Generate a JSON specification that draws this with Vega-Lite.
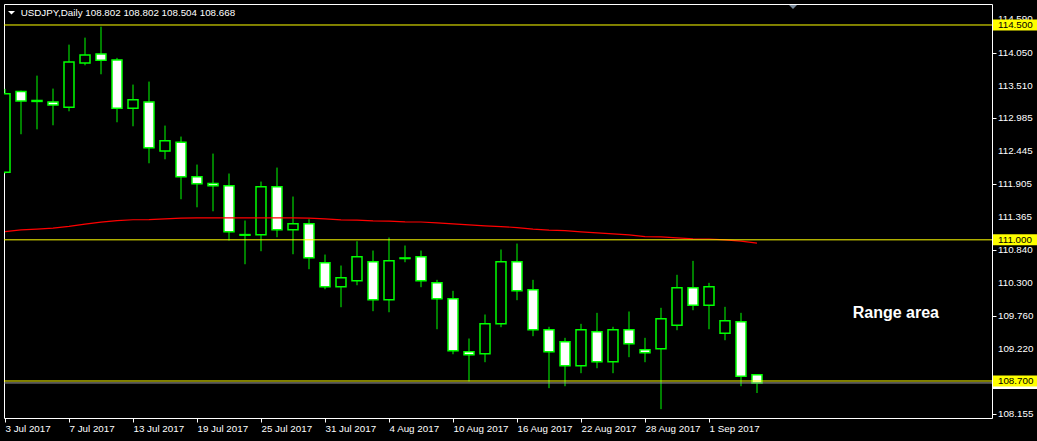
{
  "$schema": "https://vega.github.io/schema/vega-lite/v6.json",
  "autosize": {"type": "none"},
  "padding": {"left": 4, "top": 4, "right": 45, "bottom": 23},
  "width": 988,
  "height": 414,
  "background": "black",
  "config": {
    "view": {"stroke": "white", "strokeWidth": 1},
    "scale": {"continuousPadding": 0},
    "axis": {"labelFont": "Liberation Sans", "labelFontSize": 9.8, "labelColor": "white", "tickColor": "white", "grid": false, "domain": false, "title": null, "labelOverlap": false},
    "axisY": {"labelOverlap": false, "orient": "right", "tickSize": 4, "labels": false},
    "axisX": {"labelOverlap": false, "labelAlign": "left", "labelFlush": false, "tickSize": 4, "labelPadding": 1}
  },
  "datasets": {
    "candles": [
      {"date": "2017-07-03", "i": 0, "o": 112.10, "h": 113.46, "l": 112.08, "c": 113.38, "ma": 111.135},
      {"date": "2017-07-04", "i": 1, "o": 113.415, "h": 113.431, "l": 112.72, "c": 113.263, "ma": 111.162},
      {"date": "2017-07-05", "i": 2, "o": 113.255, "h": 113.675, "l": 112.80, "c": 113.27, "ma": 111.175},
      {"date": "2017-07-06", "i": 3, "o": 113.247, "h": 113.464, "l": 112.866, "c": 113.198, "ma": 111.189},
      {"date": "2017-07-07", "i": 4, "o": 113.159, "h": 114.18, "l": 113.094, "c": 113.898, "ma": 111.219},
      {"date": "2017-07-10", "i": 5, "o": 113.882, "h": 114.294, "l": 113.843, "c": 114.012, "ma": 111.257},
      {"date": "2017-07-11", "i": 6, "o": 114.029, "h": 114.473, "l": 113.697, "c": 113.925, "ma": 111.289},
      {"date": "2017-07-12", "i": 7, "o": 113.931, "h": 113.964, "l": 112.915, "c": 113.143, "ma": 111.314},
      {"date": "2017-07-13", "i": 8, "o": 113.143, "h": 113.529, "l": 112.85, "c": 113.28, "ma": 111.327},
      {"date": "2017-07-14", "i": 9, "o": 113.247, "h": 113.578, "l": 112.247, "c": 112.498, "ma": 111.330},
      {"date": "2017-07-17", "i": 10, "o": 112.449, "h": 112.861, "l": 112.312, "c": 112.612, "ma": 111.341},
      {"date": "2017-07-18", "i": 11, "o": 112.589, "h": 112.682, "l": 111.661, "c": 112.026, "ma": 111.355},
      {"date": "2017-07-19", "i": 12, "o": 112.026, "h": 112.226, "l": 111.53, "c": 111.912, "ma": 111.358},
      {"date": "2017-07-20", "i": 13, "o": 111.916, "h": 112.405, "l": 111.465, "c": 111.879, "ma": 111.358},
      {"date": "2017-07-21", "i": 14, "o": 111.879, "h": 112.08, "l": 110.988, "c": 111.13, "ma": 111.358},
      {"date": "2017-07-24", "i": 15, "o": 111.075, "h": 111.314, "l": 110.602, "c": 111.085, "ma": 111.358},
      {"date": "2017-07-25", "i": 16, "o": 111.081, "h": 111.949, "l": 110.814, "c": 111.863, "ma": 111.358},
      {"date": "2017-07-26", "i": 17, "o": 111.863, "h": 112.177, "l": 111.042, "c": 111.162, "ma": 111.358},
      {"date": "2017-07-27", "i": 18, "o": 111.162, "h": 111.705, "l": 110.765, "c": 111.26, "ma": 111.358},
      {"date": "2017-07-28", "i": 19, "o": 111.26, "h": 111.335, "l": 110.521, "c": 110.706, "ma": 111.355},
      {"date": "2017-07-31", "i": 20, "o": 110.625, "h": 110.76, "l": 110.195, "c": 110.234, "ma": 111.341},
      {"date": "2017-08-01", "i": 21, "o": 110.234, "h": 110.581, "l": 109.902, "c": 110.381, "ma": 111.325},
      {"date": "2017-08-02", "i": 22, "o": 110.332, "h": 110.977, "l": 110.26, "c": 110.723, "ma": 111.322},
      {"date": "2017-08-03", "i": 23, "o": 110.641, "h": 110.825, "l": 109.837, "c": 110.022, "ma": 111.309},
      {"date": "2017-08-04", "i": 24, "o": 110.022, "h": 111.037, "l": 109.82, "c": 110.658, "ma": 111.306},
      {"date": "2017-08-07", "i": 25, "o": 110.695, "h": 110.907, "l": 110.635, "c": 110.705, "ma": 111.293},
      {"date": "2017-08-08", "i": 26, "o": 110.723, "h": 110.825, "l": 110.228, "c": 110.332, "ma": 111.290},
      {"date": "2017-08-09", "i": 27, "o": 110.299, "h": 110.348, "l": 109.543, "c": 110.038, "ma": 111.276},
      {"date": "2017-08-10", "i": 28, "o": 110.038, "h": 110.169, "l": 109.136, "c": 109.192, "ma": 111.260},
      {"date": "2017-08-11", "i": 29, "o": 109.175, "h": 109.392, "l": 108.692, "c": 109.127, "ma": 111.244},
      {"date": "2017-08-14", "i": 30, "o": 109.143, "h": 109.783, "l": 109.006, "c": 109.631, "ma": 111.228},
      {"date": "2017-08-15", "i": 31, "o": 109.631, "h": 110.842, "l": 109.576, "c": 110.641, "ma": 111.216},
      {"date": "2017-08-16", "i": 32, "o": 110.641, "h": 110.939, "l": 110.016, "c": 110.169, "ma": 111.200},
      {"date": "2017-08-17", "i": 33, "o": 110.185, "h": 110.348, "l": 109.43, "c": 109.534, "ma": 111.175},
      {"date": "2017-08-18", "i": 34, "o": 109.534, "h": 109.583, "l": 108.583, "c": 109.175, "ma": 111.159},
      {"date": "2017-08-21", "i": 35, "o": 109.338, "h": 109.403, "l": 108.615, "c": 108.947, "ma": 111.151},
      {"date": "2017-08-22", "i": 36, "o": 108.947, "h": 109.631, "l": 108.827, "c": 109.534, "ma": 111.130},
      {"date": "2017-08-23", "i": 37, "o": 109.501, "h": 109.81, "l": 108.908, "c": 109.013, "ma": 111.113},
      {"date": "2017-08-24", "i": 38, "o": 109.013, "h": 109.583, "l": 108.827, "c": 109.534, "ma": 111.097},
      {"date": "2017-08-25", "i": 39, "o": 109.534, "h": 109.832, "l": 109.088, "c": 109.306, "ma": 111.081},
      {"date": "2017-08-28", "i": 40, "o": 109.208, "h": 109.403, "l": 109.006, "c": 109.159, "ma": 111.053},
      {"date": "2017-08-29", "i": 41, "o": 109.224, "h": 109.892, "l": 108.241, "c": 109.713, "ma": 111.048},
      {"date": "2017-08-30", "i": 42, "o": 109.609, "h": 110.43, "l": 109.527, "c": 110.218, "ma": 111.032},
      {"date": "2017-08-31", "i": 43, "o": 110.218, "h": 110.657, "l": 109.853, "c": 109.934, "ma": 111.016},
      {"date": "2017-09-01", "i": 44, "o": 109.934, "h": 110.299, "l": 109.543, "c": 110.234, "ma": 111.013},
      {"date": "2017-09-04", "i": 45, "o": 109.478, "h": 109.908, "l": 109.364, "c": 109.68, "ma": 111.000},
      {"date": "2017-09-05", "i": 46, "o": 109.664, "h": 109.81, "l": 108.615, "c": 108.778, "ma": 110.980},
      {"date": "2017-09-06", "i": 47, "o": 108.802, "h": 108.802, "l": 108.504, "c": 108.668, "ma": 110.947}
    ],
    "yticks": [{"v": 114.59}, {"v": 114.05}, {"v": 113.51}, {"v": 112.985}, {"v": 112.445}, {"v": 111.905}, {"v": 111.365}, {"v": 110.84}, {"v": 110.3}, {"v": 109.76}, {"v": 109.22}, {"v": 108.155}],
    "levels": [{"p": 114.5}, {"p": 111.0}, {"p": 108.7}],
    "bid": [{"p": 108.668}]
  },
  "layer": [
    {
      "data": {"name": "candles"},
      "mark": {"type": "rule", "color": "#00FF00", "strokeWidth": 1, "clip": true},
      "encoding": {
        "x": {"field": "i", "type": "quantitative", "scale": {"domain": [-0.0625, 61.6875], "nice": false, "zero": false, "padding": 0},
          "axis": {"values": [0, 4, 8, 12, 16, 20, 24, 28, 32, 36, 40, 44], "labelOverlap": false,
            "labelExpr": "['3 Jul 2017','7 Jul 2017','13 Jul 2017','19 Jul 2017','25 Jul 2017','31 Jul 2017','4 Aug 2017','10 Aug 2017','16 Aug 2017','22 Aug 2017','28 Aug 2017','1 Sep 2017'][datum.value/4]"}},
        "y": {"field": "l", "type": "quantitative", "scale": {"domain": [108.097, 114.842], "nice": false, "zero": false, "padding": 0},
          "axis": {"values": [114.59, 114.05, 113.51, 112.985, 112.445, 111.905, 111.365, 110.84, 110.3, 109.76, 109.22, 108.155], "labels": false}},
        "y2": {"field": "h"}
      }
    },
    {
      "data": {"name": "candles"},
      "mark": {"type": "bar", "size": 10, "stroke": "#00FF00", "strokeWidth": 1.5, "clip": true},
      "encoding": {
        "x": {"field": "i", "type": "quantitative"},
        "y": {"field": "o", "type": "quantitative"},
        "y2": {"field": "c"},
        "fill": {"condition": {"test": "datum.c < datum.o", "value": "white"}, "value": "black"}
      }
    },
    {
      "data": {"name": "candles"},
      "mark": {"type": "line", "color": "#FF0000", "strokeWidth": 1.2},
      "encoding": {
        "x": {"field": "i", "type": "quantitative"},
        "y": {"field": "ma", "type": "quantitative"}
      }
    },
    {
      "data": {"name": "levels"},
      "mark": {"type": "rule", "color": "#FFFF00", "strokeWidth": 1},
      "encoding": {"y": {"field": "p", "type": "quantitative"}}
    },
    {
      "data": {"name": "bid"},
      "mark": {"type": "rule", "color": "#A0A0A0", "strokeWidth": 1},
      "encoding": {"y": {"field": "p", "type": "quantitative"}}
    },
    {
      "data": {"name": "yticks"},
      "mark": {"type": "text", "align": "left", "baseline": "middle", "color": "white", "font": "Liberation Sans", "fontSize": 9.8},
      "encoding": {
        "x": {"datum": 62.06, "type": "quantitative"},
        "y": {"field": "v", "type": "quantitative"},
        "text": {"field": "v", "type": "quantitative", "format": ".3f"}
      }
    },
    {
      "data": {"name": "bid"},
      "mark": {"type": "bar", "orient": "horizontal", "size": 12, "fill": "white"},
      "encoding": {
        "x": {"datum": 61.75, "type": "quantitative"},
        "x2": {"datum": 64.5},
        "y": {"field": "p", "type": "quantitative"}
      }
    },
    {
      "data": {"name": "bid"},
      "mark": {"type": "text", "align": "left", "baseline": "middle", "color": "black", "font": "Liberation Sans", "fontSize": 9.8},
      "encoding": {
        "x": {"datum": 62.06, "type": "quantitative"},
        "y": {"field": "p", "type": "quantitative"},
        "text": {"field": "p", "type": "quantitative", "format": ".3f"}
      }
    },
    {
      "data": {"name": "levels"},
      "mark": {"type": "bar", "orient": "horizontal", "size": 11, "fill": "#FFFF00"},
      "encoding": {
        "x": {"datum": 61.75, "type": "quantitative"},
        "x2": {"datum": 64.5},
        "y": {"field": "p", "type": "quantitative"}
      }
    },
    {
      "data": {"name": "levels"},
      "mark": {"type": "text", "align": "left", "baseline": "middle", "color": "black", "font": "Liberation Sans", "fontSize": 9.8},
      "encoding": {
        "x": {"datum": 62.06, "type": "quantitative"},
        "y": {"field": "p", "type": "quantitative"},
        "text": {"field": "p", "type": "quantitative", "format": ".3f"}
      }
    },
    {
      "data": {"values": [{"t": "USDJPY,Daily  108.802 108.802 108.504 108.668"}]},
      "mark": {"type": "text", "align": "left", "baseline": "alphabetic", "color": "white", "font": "Liberation Sans", "fontSize": 9.8},
      "encoding": {
        "x": {"datum": 0.98, "type": "quantitative"},
        "y": {"datum": 114.647, "type": "quantitative"},
        "text": {"field": "t"}
      }
    },
    {
      "data": {"values": [{"t": "Range area"}]},
      "mark": {"type": "text", "align": "left", "baseline": "alphabetic", "color": "white", "font": "Liberation Sans", "fontSize": 16, "fontWeight": "bold"},
      "encoding": {
        "x": {"datum": 52.98, "type": "quantitative"},
        "y": {"datum": 109.726, "type": "quantitative"},
        "text": {"field": "t"}
      }
    },
    {
      "data": {"values": [{"k": "menu"}]},
      "mark": {"type": "point", "shape": "M-1,-0.5L1,-0.5L0,0.5Z", "size": 49, "filled": true, "fill": "white", "opacity": 1, "strokeWidth": 0},
      "encoding": {
        "x": {"datum": 0.406, "type": "quantitative"},
        "y": {"datum": 114.699, "type": "quantitative"}
      }
    },
    {
      "data": {"values": [{"k": "shift"}]},
      "mark": {"type": "point", "shape": "M-1,-0.5L1,-0.5L0,0.5Z", "size": 64, "filled": true, "fill": "#778899", "opacity": 1, "strokeWidth": 0},
      "encoding": {
        "x": {"datum": 49.25, "type": "quantitative"},
        "y": {"datum": 114.793, "type": "quantitative"}
      }
    }
  ]
}
